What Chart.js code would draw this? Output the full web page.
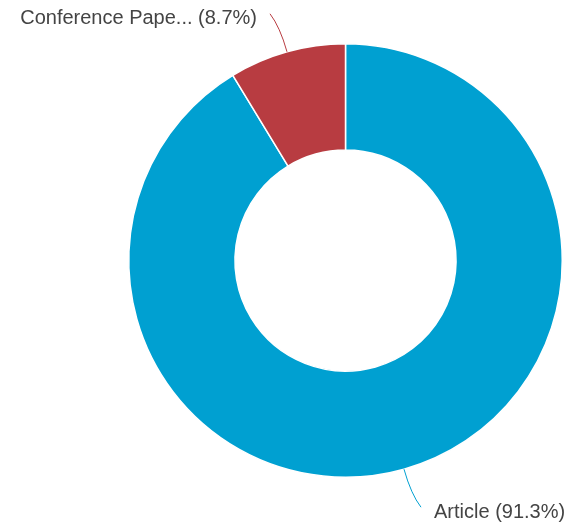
<!DOCTYPE html>
<html>
<head>
<meta charset="utf-8">
<title>Document types</title>
<script src="https://cdn.jsdelivr.net/npm/chart.js@4/dist/chart.umd.min.js"></script>
<style>
    html, body { margin: 0; padding: 0; background: #fff; }
    #wrap { width: 570px; height: 529px; position: relative; }
</style>
</head>
<body>
<div id="wrap"><canvas id="docTypeChart"></canvas></div>
<script>
const categories = ['Article', 'Conference Paper'];
const shares = [91.3, 8.7];
const sliceColors = ['#00a0d1', '#b83c41'];

// shorten long category names the same way the labels show them
function shortName(name) {
    return name.length > 15 ? name.slice(0, 15) + '...' : name;
}

// draws "Name (x.x%)" outside each slice with a curved connector
const outsideLabels = {
    id: 'outsideLabels',
    afterDatasetsDraw(chart) {
        const ctx = chart.ctx;
        const meta = chart.getDatasetMeta(0);
        const data = chart.data.datasets[0].data;
        const total = data.reduce((a, b) => a + b, 0);

        ctx.save();
        ctx.font = '20px "Liberation Sans", Arial, sans-serif';
        ctx.textBaseline = 'middle';
        ctx.lineWidth = 1;

        meta.data.forEach((arc, i) => {
            const mid = (arc.startAngle + arc.endAngle) / 2;
            const cos = Math.cos(mid);
            const sin = Math.sin(mid);
            const sx = arc.x + cos * arc.outerRadius;
            const sy = arc.y + sin * arc.outerRadius;
            const side = cos >= 0 ? 1 : -1;
            const vert = sin >= 0 ? 1 : -1;
            const ex = sx + side * 17;
            const ey = sy + vert * 38;
            const cx = sx + cos * 26;
            const cy = sy + sin * 26;

            ctx.strokeStyle = sliceColors[i];
            ctx.beginPath();
            ctx.moveTo(sx, sy);
            ctx.quadraticCurveTo(cx, cy, ex, ey);
            ctx.stroke();

            const pct = (data[i] / total * 100).toFixed(1);
            const text = shortName(chart.data.labels[i]) + ' (' + pct + '%)';
            ctx.fillStyle = '#444';
            ctx.textAlign = side > 0 ? 'left' : 'right';
            ctx.fillText(text, ex + side * 13, ey + 5);
        });
        ctx.restore();
    }
};

new Chart(document.getElementById('docTypeChart'), {
    type: 'doughnut',
    data: {
        labels: categories,
        datasets: [{
            data: shares,
            backgroundColor: sliceColors,
            borderColor: '#ffffff',
            borderWidth: 1.5,
            hoverOffset: 0
        }]
    },
    options: {
        responsive: true,
        maintainAspectRatio: false,
        animation: false,
        cutout: '51%',
        layout: {
            padding: { left: 128, right: 7, top: 43, bottom: 51 }
        },
        plugins: {
            legend: { display: false },
            tooltip: { enabled: false }
        }
    },
    plugins: [outsideLabels]
});
</script>
</body>
</html>
